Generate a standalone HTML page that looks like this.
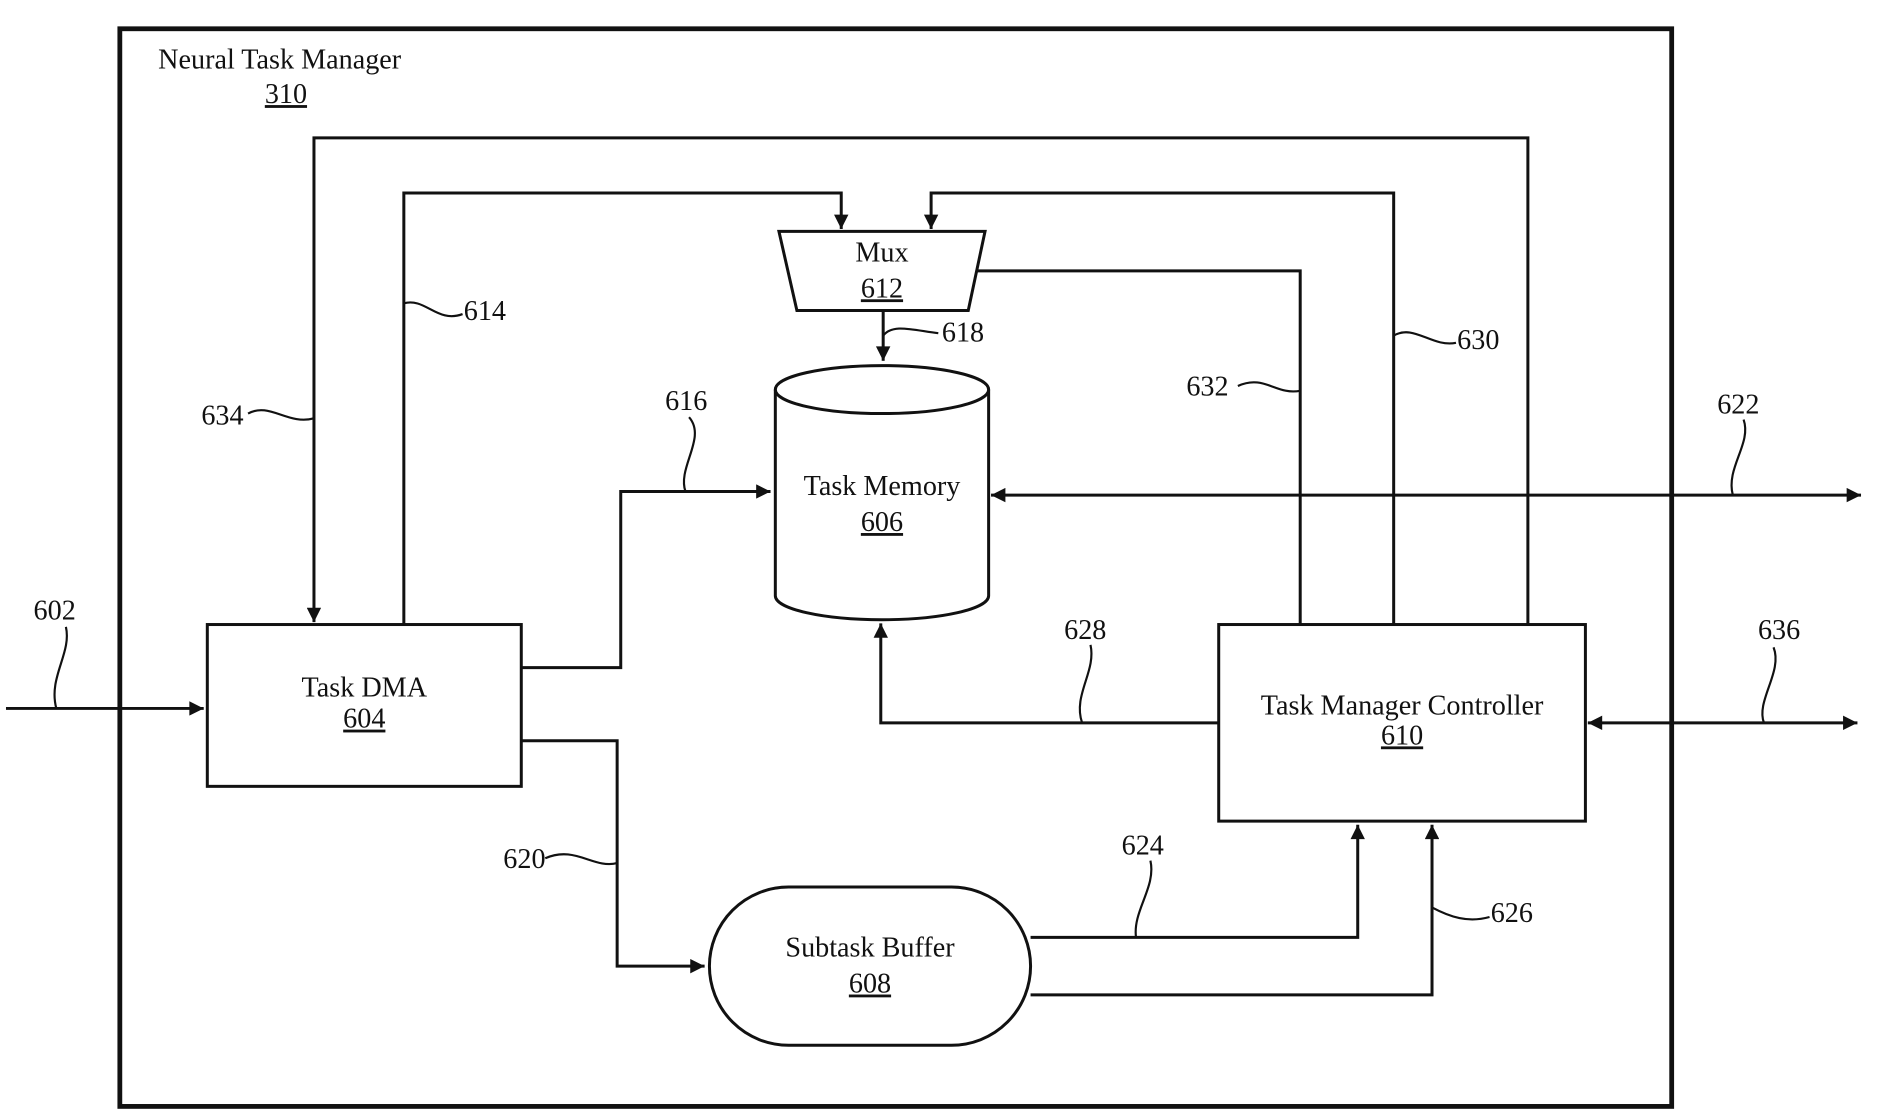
<!DOCTYPE html>
<html><head><style>html,body{margin:0;padding:0;background:#fff}svg{display:block}
text{font-family:"Liberation Serif",serif;font-size:23.5px;fill:#111}</style></head>
<body>
<svg width="1879" height="1116" viewBox="0 0 1568 931" preserveAspectRatio="none" xmlns="http://www.w3.org/2000/svg">
<defs>
<marker id="b" viewBox="0 0 10 10" refX="10" refY="5" markerWidth="16" markerHeight="12" orient="auto-start-reverse" markerUnits="userSpaceOnUse"><path d="M0,0 L10,5 L0,10 z" fill="#111"/></marker></defs>
<g fill="none" stroke="#111" stroke-width="2.5">
<rect x="100" y="24" width="1295" height="899" stroke-width="4"/>
<path d="M650,193 L822,193 L808,259 L665,259 Z"/>
<path d="M647,325 L647,497 A89,20 0 0 0 825,497 L825,325"/>
<ellipse cx="736" cy="325" rx="89" ry="20"/>
<rect x="173" y="521" width="262" height="135"/>
<rect x="1017" y="521" width="306" height="164"/>
<rect x="592" y="740" width="268" height="132" rx="66"/>
<path d="M1275,521 V115 H262 V519" marker-end="url(#b)"/>
<path d="M337,521 V161 H702 V191" marker-end="url(#b)"/>
<path d="M1163,521 V161 H777 V191" marker-end="url(#b)"/>
<path d="M1085,521 V226 H815"/>
<path d="M737,259 V301" marker-end="url(#b)"/>
<path d="M435,557 H518 V410 H643" marker-end="url(#b)"/>
<path d="M827,413 H1553" marker-start="url(#b)" marker-end="url(#b)"/>
<path d="M1017,603 H735 V520" marker-end="url(#b)"/>
<path d="M1325,603 H1550" marker-start="url(#b)" marker-end="url(#b)"/>
<path d="M5,591 H170" marker-end="url(#b)"/>
<path d="M435,618 H515 V806 H588" marker-end="url(#b)"/>
<path d="M860,782 H1133 V688" marker-end="url(#b)"/>
<path d="M860,830 H1195 V688" marker-end="url(#b)"/>
<g stroke-width="1.8">
<path d="M207,345 C225,335 240,355 262,349"/>
<path d="M337,253 C355,248 365,270 386,262"/>
<path d="M737,280 C745,270 760,275 783,278"/>
<path d="M575,348 C590,365 565,390 572,410"/>
<path d="M1033,322 C1055,312 1065,330 1085,326"/>
<path d="M1163,280 C1180,270 1195,290 1215,286"/>
<path d="M1455,350 C1462,370 1440,390 1446,413"/>
<path d="M910,538 C915,560 895,580 903,603"/>
<path d="M1480,540 C1488,560 1465,585 1472,603"/>
<path d="M55,523 C60,545 40,565 47,591"/>
<path d="M455,716 C480,705 495,725 515,720"/>
<path d="M960,718 C965,740 945,760 948,782"/>
<path d="M1195,757 C1210,765 1225,770 1243,765"/>
</g></g>
<text x="132" y="57">Neural Task Manager</text>
<text x="221" y="86" text-decoration="underline">310</text>
<text x="736" y="218" text-anchor="middle">Mux</text>
<text x="736" y="248" text-anchor="middle" text-decoration="underline">612</text>
<text x="736" y="413" text-anchor="middle">Task Memory</text>
<text x="736" y="443" text-anchor="middle" text-decoration="underline">606</text>
<text x="304" y="581" text-anchor="middle">Task DMA</text>
<text x="304" y="607" text-anchor="middle" text-decoration="underline">604</text>
<text x="1170" y="596" text-anchor="middle">Task Manager Controller</text>
<text x="1170" y="621" text-anchor="middle" text-decoration="underline">610</text>
<text x="726" y="798" text-anchor="middle">Subtask Buffer</text>
<text x="726" y="828" text-anchor="middle" text-decoration="underline">608</text>
<text x="168" y="354">634</text>
<text x="387" y="267">614</text>
<text x="786" y="285">618</text>
<text x="555" y="342">616</text>
<text x="990" y="330">632</text>
<text x="1216" y="291">630</text>
<text x="1433" y="345">622</text>
<text x="888" y="533">628</text>
<text x="1467" y="533">636</text>
<text x="28" y="517">602</text>
<text x="420" y="724">620</text>
<text x="936" y="713">624</text>
<text x="1244" y="769">626</text>
</svg>
</body></html>
